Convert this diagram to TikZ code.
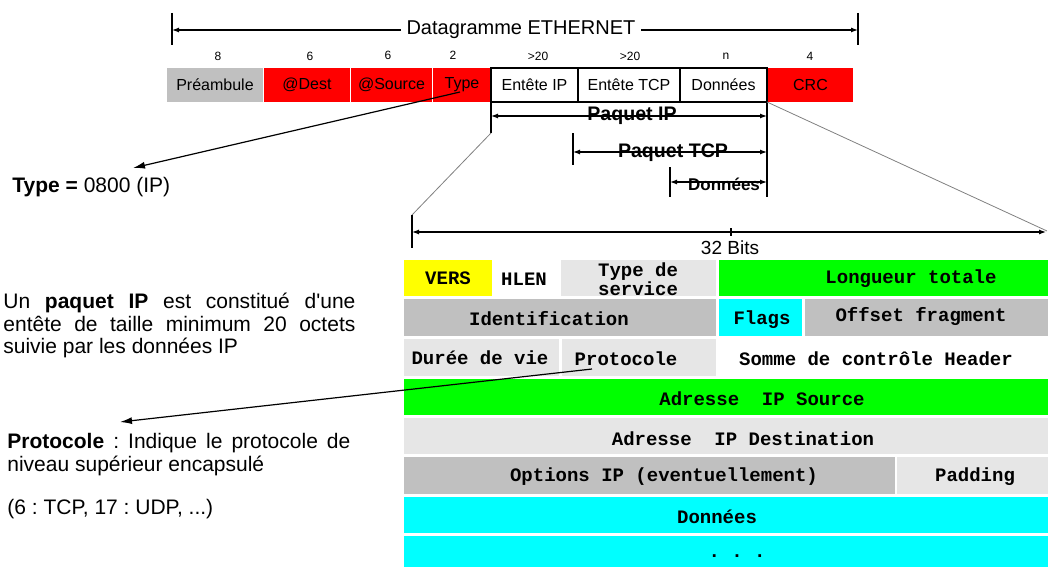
\documentclass[tikz,border=0pt]{standalone}
\usepackage{fontspec}
\setmainfont{Liberation Sans}
\newfontfamily\hdrmono{Liberation Mono}
\usetikzlibrary{positioning, arrows.meta}
\frenchspacing

\definecolor{ethred}{RGB}{255,0,0}
\definecolor{boxgray}{RGB}{192,192,192}
\definecolor{boxlight}{RGB}{230,230,230}
\definecolor{boxgreen}{RGB}{0,255,0}
\definecolor{boxcyan}{RGB}{0,255,255}
\definecolor{boxyellow}{RGB}{255,255,0}

\tikzset{
  frame/.style={minimum height=17pt, inner sep=0pt, outer sep=0pt, font=\fontsize{8}{9}\selectfont},
  redbox/.style={frame, fill=ethred},
  pktbox/.style={frame, draw=black, line width=0.6pt},
  bytes/.style={font=\fontsize{6}{7}\selectfont, inner sep=0pt},
  dim/.style={line width=0.6pt, {Latex[length=3.5pt,width=2.5pt]}-{Latex[length=3.5pt,width=2.5pt]}},
  tick/.style={line width=1pt},
  zoomline/.style={gray, line width=0.4pt},
  dimlabel/.style={font=\fontsize{9.8}{10}\selectfont\bfseries, inner sep=0pt},
  hdr/.style={font=\hdrmono\fontsize{9.5}{9.5}\selectfont\bfseries, inner sep=0pt},
  note/.style={font=\fontsize{10.5}{11.25}\selectfont, inner sep=0pt},
  callout/.style={line width=0.6pt, -{Latex[length=6pt,width=3.5pt]}}
}

\begin{document}
\begin{tikzpicture}[x=0.5pt, y=-0.5pt]
  \useasboundingbox (0,0) rectangle (1048,567);

  % trame ethernet
  \node[frame, fill=boxgray, minimum width=48pt, anchor=north west] (pre) at (167,68) {Préambule};
  \node[redbox, minimum width=43pt, right=0.5pt of pre] (edst) {@Dest};
  \node[redbox, minimum width=40.5pt, right=0.5pt of edst] (esrc) {@Source};
  \node[redbox, minimum width=29pt, right=0.5pt of esrc] (etype) {Type};
  \node[pktbox, minimum width=43.5pt, right=0pt of etype] (eip) {Entête IP};
  \node[pktbox, minimum width=51pt, right=0pt of eip] (etcp) {Entête TCP};
  \node[pktbox, minimum width=43.5pt, right=0pt of etcp] (edata) {Données};
  \node[redbox, minimum width=42.5pt, right=0.5pt of edata] (ecrc) {CRC};

  \node[bytes] (nPre) at (218,56) {8};
  \node[bytes] (nDst) at (310,56) {6};
  \node[bytes] (nSrc) at (388,55) {6};
  \node[bytes] (nType) at (453,55) {2};
  \node[bytes] (nIp) at (538,56) {>20};
  \node[bytes] (nTcp) at (630,56) {>20};
  \node[bytes] (nData) at (726,56) {n};
  \node[bytes] (nCrc) at (810,56) {4};

  \draw[tick] (172,13) -- (172,45);
  \draw[tick] (858,13) -- (858,45);
  \coordinate (dgL) at (172,30);
  \coordinate (dgR) at (858,30);
  \draw[dim] (dgL) -- (dgR);
  \node[fill=white, inner xsep=3pt, inner ysep=1pt, font=\fontsize{10}{12}\selectfont] (dgTitle) at (521,30) {Datagramme ETHERNET};

  % paquets
  \draw[tick] (491,102) -- (491,133);
  \draw[tick] (767,102) -- (767,197);
  \coordinate (ipL) at (491,116);
  \coordinate (ipR) at (767,116);
  \draw[dim] (ipL) -- (ipR);
  \node[dimlabel] (ipLabel) at (632,116) {Paquet IP};

  \draw[tick] (573,133) -- (573,165);
  \coordinate (tcpL) at (573,152);
  \coordinate (tcpR) at (767,152);
  \draw[dim] (tcpL) -- (tcpR);
  \node[dimlabel] (tcpLabel) at (673,153) {Paquet TCP};

  \draw[tick] (670,167) -- (670,197);
  \coordinate (dataL) at (670,182);
  \coordinate (dataR) at (767,182);
  \draw[dim] (dataL) -- (dataR);
  \node[dimlabel, font=\fontsize{8.5}{9}\selectfont\bfseries] (dataLabel) at (724,184) {Données};

  \draw[zoomline] (491,133) -- (412,215);
  \draw[zoomline] (767,102) -- (1047,231);

  % 32 bits
  \draw[tick] (412,215) -- (412,248);
  \coordinate (bitsL) at (412,232);
  \coordinate (bitsR) at (1046,232);
  \draw[dim] (bitsL) -- (bitsR);
  \draw[line width=0.8pt] (731,228) -- (731,236);

  % entete IP
  \fill[boxyellow] (404,260) rectangle (492,296);
  \fill[boxlight] (561,260) rectangle (716,296);
  \fill[boxgreen] (719,260) rectangle (1048,296);
  \fill[boxgray] (404,299) rectangle (716,336);
  \fill[boxcyan] (719,299) rectangle (802,336);
  \fill[boxgray] (805,299) rectangle (1048,336);
  \fill[boxlight] (404,339) rectangle (559,376);
  \fill[boxlight] (562,339) rectangle (716,376);
  \fill[boxgreen] (404,379) rectangle (1048,415);
  \fill[boxlight] (404,418) rectangle (1048,454);
  \fill[boxgray] (404,457) rectangle (895,494);
  \fill[boxlight] (897,457) rectangle (1048,494);
  \fill[boxcyan] (404,497) rectangle (1048,533);
  \fill[boxcyan] (404,536) rectangle (1048,567);

  \node[fill=white, inner sep=1pt, font=\fontsize{9.5}{10}\selectfont] (bits) at (730,248) {32 Bits};

  \node[hdr] (hVers) at (448,278) {VERS};
  \node[hdr] (hHlen) at (524,279) {HLEN};
  \node[hdr, align=center] (hTos) at (638,279) {Type de\\service};
  \node[hdr] (hLen) at (911,279) {Longueur totale};
  \node[hdr] (hIdent) at (549,319) {Identification};
  \node[hdr] (hFlags) at (762,320) {Flags};
  \node[hdr] (hOffset) at (921,316) {Offset fragment};
  \node[hdr] (hTtl) at (480,358) {Durée de vie};
  \node[hdr] (hProto) at (626,359) {Protocole};
  \node[hdr] (hCksum) at (876,359) {Somme de contrôle Header};
  \node[hdr] (hSrc) at (762,399) {Adresse~~IP Source};
  \node[hdr] (hDst) at (743,439) {Adresse~~IP Destination};
  \node[hdr] (hOpt) at (664,477) {Options IP (eventuellement)};
  \node[hdr] (hPad) at (975,477) {Padding};
  \node[hdr] (hData) at (717,517) {Données};
  \node[hdr] (hMore) at (737,556) {.~.~.};

  % notes
  \node[note, anchor=west] (typeNote) at (12,187) {\textbf{Type =} 0800 (IP)};
  \coordinate (typeFrom) at (460,92);
  \coordinate (typeTo) at (133,168);
  \draw[callout] (typeFrom) -- (typeTo);

  \node[note, anchor=north west, text width=176pt, align=justify] (ipNote) at (3,293)
    {Un \textbf{paquet IP} est constitué d\textquotesingle une\linebreak entête de taille minimum 20 octets\linebreak suivie par les données IP};

  \node[note, anchor=north west, text width=171.5pt, align=justify, font=\fontsize{10.5}{11.5}\selectfont] (protoNote) at (7,433)
    {\textbf{Protocole} : Indique le protocole de\linebreak niveau supérieur encapsulé};
  \node[note, anchor=west] (protoEx) at (7,509) {(6 : TCP, 17 : UDP, ...)};
  \coordinate (protoFrom) at (592,369);
  \coordinate (protoTo) at (120,422);
  \draw[callout] (protoFrom) -- (protoTo);
\end{tikzpicture}
\end{document}
